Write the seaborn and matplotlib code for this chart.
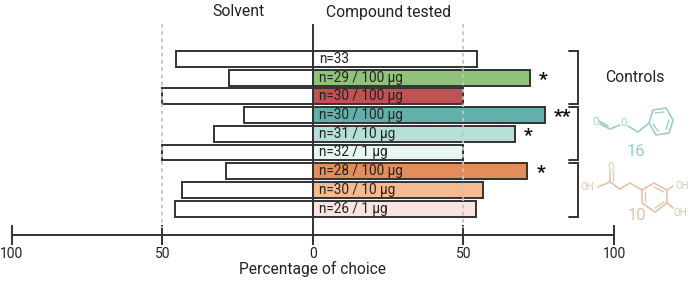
import matplotlib
matplotlib.use('Agg')

import pandas as pd
import matplotlib.pyplot as plt
import seaborn as sns

# -------------------------------
# DATA
# -------------------------------

labels = ["n=33", "n=29 / 100 µg", "n=30 / 100 µg", "n=30 / 100 µg", "n=31 / 10 µg",
          "n=32 / 1 µg", "n=28 / 100 µg", "n=30 / 10 µg", "n=26 / 1 µg"]
compound = [54.5, 72, 50, 77, 67, 50, 71.2, 56.6, 54]
solvent = [45.5, 28, 50, 23, 33, 50, 28.8, 43.4, 46]
colors = ["#FFFFFF", "#8FC27B", "#BF5253", "#62B0AA", "#B6DFDA",
          "#E9F5F2", "#E28D5A", "#F5BB90", "#FAE4E1"]
stars = ["", "*", "", "**", "*", "", "*", "", ""]
ticks = [-100, -50, 0, 50, 100]
tick_labels = ["100", "50", "0", "50", "100"]

row_ids = [str(i) for i in range(len(labels))]
df = pd.DataFrame({"row": row_ids, "compound": compound,
                   "solvent": [-v for v in solvent]})

# -------------------------------
# FIGURE
# -------------------------------

sns.set_theme(style="white")
plt.rcParams['font.family'] = ['Roboto', 'DejaVu Sans']

dark = "#333333"
ink = "#222222"
fig = plt.figure(figsize=(6.92, 2.88), dpi=100)
ax = fig.add_axes([0, 0, 1, 1])

# bars
sns.barplot(data=df, y="row", x="solvent", order=row_ids, color="white", saturation=1,
            edgecolor=dark, linewidth=1.4, width=0.85, ax=ax, zorder=2)
sns.barplot(data=df, y="row", x="compound", order=row_ids, hue="row", saturation=1,
            palette=dict(zip(row_ids, colors)), legend=False,
            edgecolor=dark, linewidth=1.4, width=0.85, ax=ax, zorder=2)

# same scale as the picture: 0 at x=313 px, 3.01 px per percent
px_x = 3.01
px_y = 18.7
ax.set_xlim(-313 / px_x, (692 - 313) / px_x)
ax.set_ylim((288 - 59) / px_y, -59 / px_y)
ax.patch.set_alpha(0)

axis_y = (235 - 59) / px_y

for side in ["top", "left", "right"]:
    ax.spines[side].set_visible(False)
ax.spines["bottom"].set_position(("data", axis_y))
ax.spines["bottom"].set_bounds(-100, 100)
ax.spines["bottom"].set_color(dark)
ax.spines["bottom"].set_linewidth(1.4)

ax.set_xticks(ticks)
ax.set_xticklabels(tick_labels, fontsize=10, color=ink)
ax.tick_params(axis="x", bottom=True, direction="inout", length=15, width=1.4,
               color=dark, pad=1)
ax.set_yticks([])
ax.set_xlabel("")
ax.set_ylabel("")

# center line and 50% guides
top = (24 - 59) / px_y
ax.vlines(0, top, (243 - 59) / px_y, color=dark, linewidth=1.4, zorder=4)
ax.vlines([-50, 50], top, (228 - 59) / px_y, color="#C4C4C4", linewidth=1.3,
          linestyle=(0, (2, 2)), zorder=5)

# row text and stars
for i, (lab, s, v) in enumerate(zip(labels, stars, compound)):
    ax.text(2, i, lab, fontsize=9.8, color=ink, va="center", ha="left", zorder=6)
    if s:
        ax.text(v + 3, i + 0.12, s, fontsize=14, fontweight="bold", color="#111111",
                va="center", ha="left", zorder=6)

# headers
ax.text(-24.7, (12 - 59) / px_y, "Solvent", fontsize=11.3, color=ink,
        ha="center", va="center")
ax.text(4.3, (12 - 59) / px_y, "Compound tested", fontsize=11.3, color=ink,
        ha="left", va="center")
ax.text(0, (269 - 59) / px_y, "Percentage of choice", fontsize=11.2, color=ink,
        ha="center", va="center")

# -------------------------------
# OVERLAY IN PIXELS (brackets, molecules)
# -------------------------------

ov = fig.add_axes([0, 0, 1, 1])
ov.set_xlim(0, 692)
ov.set_ylim(288, 0)
ov.axis("off")

for y0, y1 in [(51, 104), (107, 160), (163, 217)]:
    ov.plot([569, 577.5, 577.5, 569], [y0, y0, y1, y1], color=dark, linewidth=1.4,
            solid_joinstyle="miter")

ov.text(635, 78, "Controls", fontsize=11.3, color=ink, ha="center", va="center")

teal = "#9CCDC8"
tan = "#E5C4A6"

# compound 16
ov.plot([600, 610, 620], [124, 129, 125], color=teal, linewidth=1.2)
ov.plot([599, 608], [121, 126], color=teal, linewidth=1.2)
ov.plot([628, 638, 649], [126, 132, 123], color=teal, linewidth=1.2)
ov.plot([649, 653, 666, 673, 669, 656, 649], [123, 110, 108, 120, 133, 135, 123],
        color=teal, linewidth=1.2)
ov.plot([655, 664], [113, 112], color=teal, linewidth=1.0)
ov.plot([669, 666], [120, 129], color=teal, linewidth=1.0)
ov.plot([658, 653], [131, 124], color=teal, linewidth=1.0)
ov.text(596, 122, "O", fontsize=7, color=teal, ha="center", va="center")
ov.text(624, 123, "O", fontsize=7, color=teal, ha="center", va="center")
ov.text(636, 151.5, "16", fontsize=12, color=teal, ha="center", va="center")

# compound 10
ov.plot([598, 610, 620, 630, 642], [187, 182, 189, 183, 190], color=tan, linewidth=1.2)
ov.plot([610, 610], [182, 171], color=tan, linewidth=1.2)
ov.plot([612.5, 612.5], [181, 171], color=tan, linewidth=1.0)
ov.plot([642, 654, 667, 667, 655, 642, 642], [190, 183, 190, 203, 212, 203, 190],
        color=tan, linewidth=1.2)
ov.plot([654, 664], [187, 192], color=tan, linewidth=1.0)
ov.plot([664, 655], [202, 208], color=tan, linewidth=1.0)
ov.plot([645, 645], [192, 201], color=tan, linewidth=1.0)
ov.plot([667, 673], [190, 186], color=tan, linewidth=1.2)
ov.plot([667, 673], [203, 208], color=tan, linewidth=1.2)
ov.text(611, 167, "O", fontsize=7, color=tan, ha="center", va="center")
ov.text(587, 187, "OH", fontsize=7, color=tan, ha="center", va="center")
ov.text(682, 186, "OH", fontsize=7, color=tan, ha="center", va="center")
ov.text(680, 213, "OH", fontsize=7, color=tan, ha="center", va="center")
ov.text(637, 215, "10", fontsize=12, color=tan, ha="center", va="center")

fig.savefig("out.png", dpi=100)
